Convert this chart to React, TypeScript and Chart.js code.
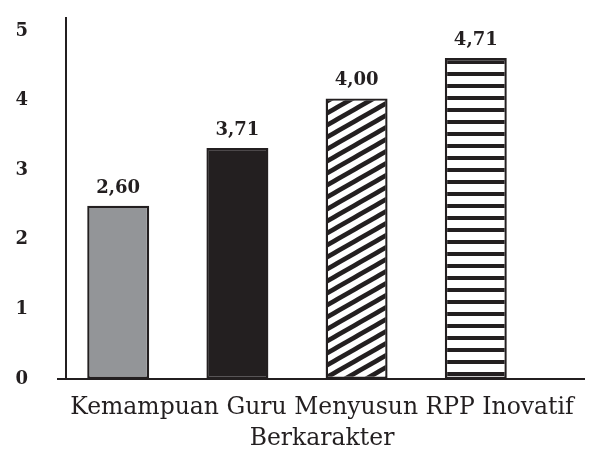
import React, { useEffect, useRef } from "react";
import { Chart, registerables } from "chart.js";

Chart.register(...registerables);

const categoryLabel = ["Kemampuan Guru Menyusun RPP Inovatif", "Berkarakter"];
const seriesNames = ["Seri 1", "Seri 2", "Seri 3", "Seri 4"];
const barValues = [2.49, 3.32, 4.03, 4.61];
const valueLabels = ["2,60", "3,71", "4,00", "4,71"];
const yTickValues = [0, 1, 2, 3, 4, 5];

const INK = "#231f20";
const GRAY = "#939598";
const SERIF = "'DejaVu Serif', serif";

function diagonalPattern(ctx: CanvasRenderingContext2D) {
  const W = 21, H = 12;
  const c = document.createElement("canvas");
  c.width = W; c.height = H;
  const g = c.getContext("2d")!;
  g.fillStyle = "#fff"; g.fillRect(0, 0, W, H);
  g.strokeStyle = INK; g.lineWidth = 4.6;
  for (const dy of [-H, 0, H]) {
    g.beginPath();
    g.moveTo(-W, 2 * H + dy);
    g.lineTo(2 * W, -H + dy);
    g.stroke();
  }
  return ctx.createPattern(c, "repeat")!;
}

function horizontalPattern(ctx: CanvasRenderingContext2D) {
  const c = document.createElement("canvas");
  c.width = 4; c.height = 12;
  const g = c.getContext("2d")!;
  g.fillStyle = "#fff"; g.fillRect(0, 0, 4, 12);
  g.fillStyle = INK; g.fillRect(0, 0, 4, 4);
  return ctx.createPattern(c, "repeat")!;
}

const axisPlugin = {
  id: "axisLines",
  afterDatasetsDraw(chart: any) {
    const { ctx, chartArea, scales } = chart;
    const y0 = scales.y.getPixelForValue(0);
    ctx.save();
    ctx.strokeStyle = INK;
    ctx.lineWidth = 2;
    ctx.beginPath();
    ctx.moveTo(chartArea.left, chartArea.top);
    ctx.lineTo(chartArea.left, y0);
    ctx.moveTo(chartArea.left - 9, y0);
    ctx.lineTo(chartArea.right + 57, y0);
    ctx.stroke();
    ctx.restore();
  },
};

const valueLabelPlugin = {
  id: "valueLabels",
  afterDatasetsDraw(chart: any) {
    const { ctx } = chart;
    ctx.save();
    ctx.fillStyle = INK;
    ctx.font = `bold 18px ${SERIF}`;
    ctx.textAlign = "center";
    ctx.textBaseline = "alphabetic";
    chart.data.datasets.forEach((_: any, i: number) => {
      const el = chart.getDatasetMeta(i).data[0];
      if (!el) return;
      ctx.fillText(valueLabels[i], el.x, el.y - 13);
    });
    ctx.restore();
  },
};

export default function App() {
  const ref = useRef<HTMLCanvasElement>(null);
  useEffect(() => {
    const canvas = ref.current!;
    const ctx = canvas.getContext("2d")!;
    const fills = [GRAY, INK, diagonalPattern(ctx), horizontalPattern(ctx)];
    const chart = new Chart(canvas, {
      type: "bar",
      data: {
        labels: [categoryLabel],
        datasets: barValues.map((v, i) => ({
          label: seriesNames[i],
          data: [v],
          backgroundColor: fills[i] as any,
          borderColor: INK,
          borderWidth: 2.4,
          borderSkipped: false,
          categoryPercentage: 1.032,
          barPercentage: 0.52,
        })),
      },
      options: {
        responsive: false,
        animation: false,
        layout: { padding: { top: 17, right: 63, left: 0, bottom: 0 } },
        plugins: { legend: { display: false }, tooltip: { enabled: false } },
        scales: {
          x: {
            grid: { display: false, drawTicks: false },
            border: { display: false },
            ticks: {
              color: INK,
              font: { family: SERIF, size: 23.5, lineHeight: 1.34 },
              padding: 13,
              labelOffset: 25,
              maxRotation: 0,
              autoSkip: false,
            },
            afterFit(scale: any) {
              scale.height = 78;
              scale.paddingLeft = 0;
              scale.paddingRight = 0;
            },
          },
          y: {
            min: 0,
            max: 5.2,
            grid: { display: false, drawTicks: false },
            border: { display: false },
            afterBuildTicks(scale: any) {
              scale.ticks = yTickValues.map((v) => ({ value: v }));
            },
            ticks: {
              color: INK,
              font: { family: SERIF, size: 18, weight: "bold" },
              padding: 38,
              callback: (v: any) => String(v),
            },
            afterFit(scale: any) {
              scale.width = 66;
              scale.paddingTop = 0;
              scale.paddingBottom = 0;
            },
          },
        },
      },
      plugins: [axisPlugin, valueLabelPlugin],
    });
    return () => chart.destroy();
  }, []);
  return (
    <div style={{ position: "fixed", left: 0, top: 0, width: 591, height: 457, background: "#fff" }}>
      <canvas ref={ref} width={591} height={457} style={{ display: "block" }} />
    </div>
  );
}
